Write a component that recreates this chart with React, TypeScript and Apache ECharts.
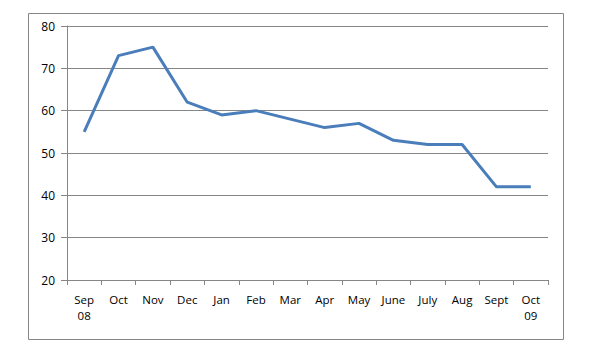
import React, { useEffect, useRef } from "react";
import * as echarts from "echarts";

const categories = ["Sep\n08", "Oct", "Nov", "Dec", "Jan", "Feb", "Mar", "Apr", "May", "June", "July", "Aug", "Sept", "Oct\n09"];
const values = [55, 73, 75, 62, 59, 60, 58, 56, 57, 53, 52, 52, 42, 42];
const yMin = 20;
const yMax = 80;
const yInterval = 10;

export default function App() {
  const ref = useRef<HTMLDivElement>(null);
  useEffect(() => {
    if (!ref.current) return;
    const chart = echarts.init(ref.current, undefined, { renderer: "svg" });
    const font = "'Open Sans', 'Liberation Sans', sans-serif";
    chart.setOption({
      animation: false,
      backgroundColor: "#ffffff",
      graphic: [
        {
          type: "rect",
          shape: { x: 28.5, y: 13.5, width: 535, height: 326 },
          style: { fill: "none", stroke: "#868686", lineWidth: 1 },
          silent: true,
        },
      ],
      grid: { left: 67, top: 26, width: 481, height: 254, containLabel: false },
      xAxis: {
        type: "category",
        data: categories,
        boundaryGap: true,
        axisLine: { show: true, lineStyle: { color: "#868686", width: 1 } },
        axisTick: { show: true, alignWithLabel: false, length: 5, lineStyle: { color: "#868686" } },
        axisLabel: { color: "#000", fontSize: 11.5, fontFamily: font, margin: 11, lineHeight: 16, interval: 0 },
        splitLine: { show: false },
      },
      yAxis: {
        type: "value",
        min: yMin,
        max: yMax,
        interval: yInterval,
        axisLine: { show: true, lineStyle: { color: "#868686", width: 1 } },
        axisTick: { show: true, length: 6, lineStyle: { color: "#868686" } },
        axisLabel: { color: "#000", fontSize: 12, fontFamily: font, margin: 12 },
        splitLine: { show: true, lineStyle: { color: "#868686", width: 1 } },
      },
      series: [
        {
          type: "line",
          data: values,
          symbol: "none",
          lineStyle: { color: "#4A7EBB", width: 3 },
          itemStyle: { color: "#4A7EBB" },
        },
      ],
    });
    return () => chart.dispose();
  }, []);
  return (
    <div
      ref={ref}
      style={{ position: "fixed", left: 0, top: 0, width: 595, height: 363, background: "#fff" }}
    />
  );
}
